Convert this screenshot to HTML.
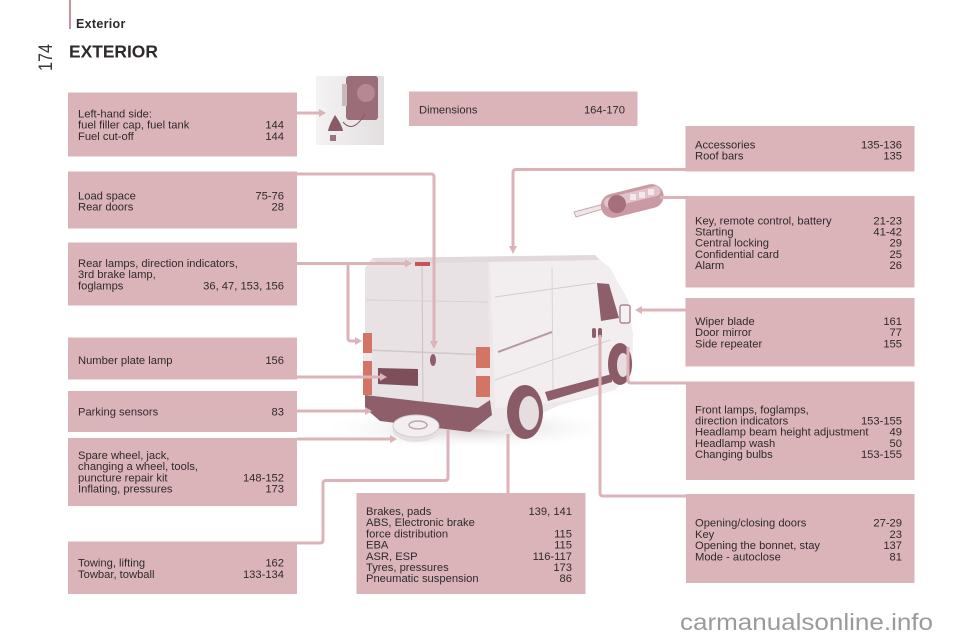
<!DOCTYPE html>
<html><head><meta charset="utf-8"><style>
html,body{margin:0;padding:0;background:#fff;}
svg{display:block;}
.t{font-family:"Liberation Sans",Arial,sans-serif;font-size:11.2px;fill:#2e2a2b;}
.r{text-anchor:end;}
</style></head><body>
<svg width="960" height="640" viewBox="0 0 960 640" xmlns="http://www.w3.org/2000/svg">
<defs>
<radialGradient id="sh" cx="0.5" cy="0.5" r="0.5">
<stop offset="0" stop-color="#cfc6c9"/><stop offset="1" stop-color="#ffffff" stop-opacity="0"/>
</radialGradient>
<linearGradient id="fg" x1="0" y1="0" x2="1" y2="0">
<stop offset="0" stop-color="#f4f2f3"/><stop offset="1" stop-color="#e3dfe0"/>
</linearGradient>
</defs>

<!-- header -->
<rect x="69" y="0" width="2" height="29" fill="#c8909a"/>
<text x="76" y="28" font-family="Liberation Sans,Arial,sans-serif" font-size="12.5" font-weight="bold" letter-spacing="0.3" fill="#2e2a2b">Exterior</text>
<text transform="translate(52,71) rotate(-90) scale(0.85,1)" font-family="Liberation Sans,Arial,sans-serif" font-size="19" fill="#3a3536">174</text>
<text x="69" y="57.5" font-family="Liberation Sans,Arial,sans-serif" font-size="17.4" font-weight="bold" fill="#2e2a2b">EXTERIOR</text>

<!-- van shadow -->
<ellipse cx="470" cy="428" rx="150" ry="22" fill="url(#sh)"/>
<ellipse cx="420" cy="432" rx="45" ry="14" fill="url(#sh)"/>

<!-- van body -->
<polygon points="365,268 372,258 595,256 610,268 628,300 633,335 632,372 615,390 560,405 500,432 470,428 380,418 365,405" fill="#ede7e9"/>
<polygon points="490,262 595,256 610,268 628,300 633,335 632,372 615,390 560,402 495,408" fill="#f2eef0"/>
<polygon points="365,268 372,260 488,262 490,400 470,427 380,418 365,405" fill="#e9e2e4"/>
<polygon points="372,258 595,255 600,260 378,264" fill="#e2d9dc"/>
<line x1="422" y1="264" x2="423" y2="405" stroke="#cdbfc3" stroke-width="1"/>
<line x1="368" y1="350" x2="488" y2="355" stroke="#d3c5c9" stroke-width="1.5"/>
<line x1="366" y1="300" x2="488" y2="302" stroke="#dcd0d3" stroke-width="1"/>
<line x1="495" y1="297" x2="595" y2="283" stroke="#d7cbcf" stroke-width="1"/>
<line x1="495" y1="380" x2="610" y2="340" stroke="#d7cbcf" stroke-width="1"/>
<line x1="552" y1="268" x2="553" y2="392" stroke="#ddd2d5" stroke-width="1"/>
<line x1="498" y1="352" x2="552" y2="332" stroke="#b99aa2" stroke-width="2"/>
<!-- bumper -->
<polygon points="365,395 478,408 490,400 492,415 470,432 380,421 365,408" fill="#8e5f6b"/>
<polygon points="378,368 418,369 418,386 378,384" fill="#7c4f5b"/>
<polygon points="545,392 612,374 612,382 548,401" fill="#8e5f6b"/>
<!-- rear lamps -->
<rect x="363" y="333" width="9" height="62" fill="#d37565"/>
<rect x="363" y="353" width="9" height="8" fill="#f0e8ea"/>
<rect x="476" y="347" width="14" height="50" fill="#d37565"/>
<rect x="476" y="368" width="14" height="8" fill="#f0e8ea"/>
<rect x="415" y="262" width="15" height="4" fill="#c9525a"/>
<ellipse cx="433" cy="360" rx="3" ry="6" fill="#8e5f6b"/>
<!-- wheels -->
<ellipse cx="525" cy="412" rx="18" ry="27" fill="#8a5a66"/>
<ellipse cx="529" cy="413" rx="10" ry="17" fill="#e6dde0"/>
<ellipse cx="620" cy="364" rx="12" ry="21" fill="#8a5a66"/>
<ellipse cx="623" cy="365" rx="6" ry="12" fill="#e6dde0"/>
<!-- cab -->
<polygon points="597,283 609,284 619,318 601,321" fill="#8d5f6a"/>
<rect x="620" y="305" width="10" height="18" rx="2" fill="#f5f1f2" stroke="#9c737d" stroke-width="1.2"/>
<rect x="592" y="328" width="4" height="10" rx="2" fill="#8d5f6a"/>
<rect x="598" y="328" width="4" height="10" rx="2" fill="#8d5f6a"/>
<!-- spare wheel -->
<ellipse cx="416" cy="430" rx="23" ry="12" fill="#e6e0e2"/>
<ellipse cx="416" cy="426" rx="23" ry="11" fill="#f3eff0" stroke="#d5cbce"/>
<ellipse cx="418" cy="425" rx="9" ry="4" fill="none" stroke="#b8a8ad" stroke-width="1.5"/>

<!-- fuel image -->
<rect x="316" y="76" width="68" height="69" fill="url(#fg)"/>
<rect x="346" y="76" width="32" height="44" rx="3" fill="#9a6d78"/>
<circle cx="366" cy="93" r="9" fill="#b48894"/>
<rect x="342" y="84" width="5" height="22" fill="#c9b8bd"/>
<path d="M335 115 q-6 10 -7 16 h15 q-1 -6 -8 -16z" fill="#8a5a66"/>
<path d="M343 122 q10 12 22 -8" fill="none" stroke="#8a5a66" stroke-width="1"/>
<rect x="330" y="135" width="6" height="6" fill="#9a7580"/>

<!-- key image -->
<path d="M574 212 l30 -8 l2 4 l-30 9z" fill="#eee7e9" stroke="#c8a9b0" stroke-width="1"/>
<g transform="rotate(-14 632 200)">
<rect x="600" y="189" width="64" height="24" rx="12" fill="#c99aa4"/>
<rect x="604" y="192" width="58" height="10" rx="5" fill="#e0c4ca"/>
</g>
<circle cx="617" cy="204" r="9" fill="#a56f7c"/>
<rect x="630" y="194" width="6" height="6" fill="#f3e9ec"/>
<rect x="639" y="192" width="6" height="6" fill="#f3e9ec"/>
<rect x="648" y="189" width="6" height="6" fill="#f3e9ec"/>

<!-- connectors -->
<g fill="none" stroke="#dcb3b9" stroke-width="3" stroke-linejoin="round">
<line x1="297" y1="113" x2="320" y2="113"/>
<path d="M297 174 H431 q3 0 3 3 V342"/>
<path d="M297 263.5 H406"/>
<path d="M348 263.5 V338 q0 3 3 3 H356"/>
<line x1="297" y1="377" x2="381" y2="377"/>
<line x1="297" y1="411" x2="366" y2="411"/>
<line x1="297" y1="439" x2="391" y2="439"/>
<path d="M297 543 H320 q3 0 3 -3 V483.5 q0 -3 3 -3 H445 q3 0 3 -3 V430"/>
<line x1="508" y1="493" x2="508" y2="434"/>
<path d="M686 169.5 H516 q-3 0 -3 3 V247"/>
<line x1="686" y1="197.5" x2="660" y2="197.5"/>
<line x1="686" y1="310" x2="641" y2="310"/>
<path d="M686 383 H631 q-3 0 -3 -3 V347"/>
<path d="M686 496 H603 q-3 0 -3 -3 V335"/>
</g>
<g fill="#dcb3b9">
<polygon points="326,113 319,109 319,117"/>
<polygon points="434,349 430,341 438,341"/>
<polygon points="412,263.5 405,259.5 405,267.5"/>
<polygon points="362,341 355,337 355,345"/>
<polygon points="387,377 380,373 380,381"/>
<polygon points="372,411 365,407 365,415"/>
<polygon points="397,439 390,435 390,443"/>
<polygon points="513,254 509,246 517,246"/>
<polygon points="635,310 642,306 642,314"/>
</g>

<!-- boxes -->
<g fill="#dbb4ba">
<rect x="68" y="92.5" width="229" height="64"/>
<rect x="68" y="171.5" width="229" height="57"/>
<rect x="68" y="242.5" width="229" height="63"/>
<rect x="68" y="337.5" width="229" height="42"/>
<rect x="68" y="391" width="229" height="41"/>
<rect x="68" y="438" width="229" height="68"/>
<rect x="68" y="541.5" width="229" height="52.5"/>
<rect x="409" y="91.5" width="228.5" height="34.5"/>
<rect x="356.5" y="493" width="229" height="101"/>
<rect x="685.5" y="126" width="229" height="45.5"/>
<rect x="685.5" y="196" width="229" height="91.5"/>
<rect x="685.5" y="298" width="229" height="68.5"/>
<rect x="686" y="381.5" width="228.5" height="98.5"/>
<rect x="686" y="494" width="228.5" height="89"/>
</g>

<!-- texts -->
<g class="t">
<text x="78" y="117.5">Left-hand side:</text>
<text x="78" y="128.7">fuel filler cap, fuel tank</text><text class="r" x="284" y="128.7">144</text>
<text x="78" y="139.9">Fuel cut-off</text><text class="r" x="284" y="139.9">144</text>

<text x="78" y="199.5">Load space</text><text class="r" x="284" y="199.5">75-76</text>
<text x="78" y="210.7">Rear doors</text><text class="r" x="284" y="210.7">28</text>

<text x="78" y="267">Rear lamps, direction indicators,</text>
<text x="78" y="278.2">3rd brake lamp,</text>
<text x="78" y="289.4">foglamps</text><text class="r" x="284" y="289.4">36, 47, 153, 156</text>

<text x="78" y="364">Number plate lamp</text><text class="r" x="284" y="364">156</text>

<text x="78" y="415.7">Parking sensors</text><text class="r" x="284" y="415.7">83</text>

<text x="78" y="459">Spare wheel, jack,</text>
<text x="78" y="470.2">changing a wheel, tools,</text>
<text x="78" y="481.4">puncture repair kit</text><text class="r" x="284" y="481.4">148-152</text>
<text x="78" y="492.6">Inflating, pressures</text><text class="r" x="284" y="492.6">173</text>

<text x="78" y="566.7">Towing, lifting</text><text class="r" x="284" y="566.7">162</text>
<text x="78" y="577.9">Towbar, towball</text><text class="r" x="284" y="577.9">133-134</text>

<text x="419" y="113.3">Dimensions</text><text class="r" x="625" y="113.3">164-170</text>

<text x="366" y="515">Brakes, pads</text><text class="r" x="572" y="515">139, 141</text>
<text x="366" y="526.2">ABS, Electronic brake</text>
<text x="366" y="537.4">force distribution</text><text class="r" x="572" y="537.4">115</text>
<text x="366" y="548.6">EBA</text><text class="r" x="572" y="548.6">115</text>
<text x="366" y="559.8">ASR, ESP</text><text class="r" x="572" y="559.8">116-117</text>
<text x="366" y="571">Tyres, pressures</text><text class="r" x="572" y="571">173</text>
<text x="366" y="582.2">Pneumatic suspension</text><text class="r" x="572" y="582.2">86</text>

<text x="695" y="148.3">Accessories</text><text class="r" x="902" y="148.3">135-136</text>
<text x="695" y="159.5">Roof bars</text><text class="r" x="902" y="159.5">135</text>

<text x="695" y="224.3">Key, remote control, battery</text><text class="r" x="902" y="224.3">21-23</text>
<text x="695" y="235.5">Starting</text><text class="r" x="902" y="235.5">41-42</text>
<text x="695" y="246.7">Central locking</text><text class="r" x="902" y="246.7">29</text>
<text x="695" y="257.9">Confidential card</text><text class="r" x="902" y="257.9">25</text>
<text x="695" y="269.1">Alarm</text><text class="r" x="902" y="269.1">26</text>

<text x="695" y="325">Wiper blade</text><text class="r" x="902" y="325">161</text>
<text x="695" y="336.2">Door mirror</text><text class="r" x="902" y="336.2">77</text>
<text x="695" y="347.4">Side repeater</text><text class="r" x="902" y="347.4">155</text>

<text x="695" y="413.3">Front lamps, foglamps,</text>
<text x="695" y="424.5">direction indicators</text><text class="r" x="902" y="424.5">153-155</text>
<text x="695" y="435.7">Headlamp beam height adjustment</text><text class="r" x="902" y="435.7">49</text>
<text x="695" y="446.9">Headlamp wash</text><text class="r" x="902" y="446.9">50</text>
<text x="695" y="458.1">Changing bulbs</text><text class="r" x="902" y="458.1">153-155</text>

<text x="695" y="526.7">Opening/closing doors</text><text class="r" x="902" y="526.7">27-29</text>
<text x="695" y="537.9">Key</text><text class="r" x="902" y="537.9">23</text>
<text x="695" y="549.1">Opening the bonnet, stay</text><text class="r" x="902" y="549.1">137</text>
<text x="695" y="560.3">Mode - autoclose</text><text class="r" x="902" y="560.3">81</text>
</g>

<!-- watermark -->
<text x="680" y="630" font-family="Liberation Sans,Arial,sans-serif" font-size="23.5" fill="#9a9a9a" textLength="253" lengthAdjust="spacingAndGlyphs">carmanualsonline.info</text>
</svg>
</body></html>
